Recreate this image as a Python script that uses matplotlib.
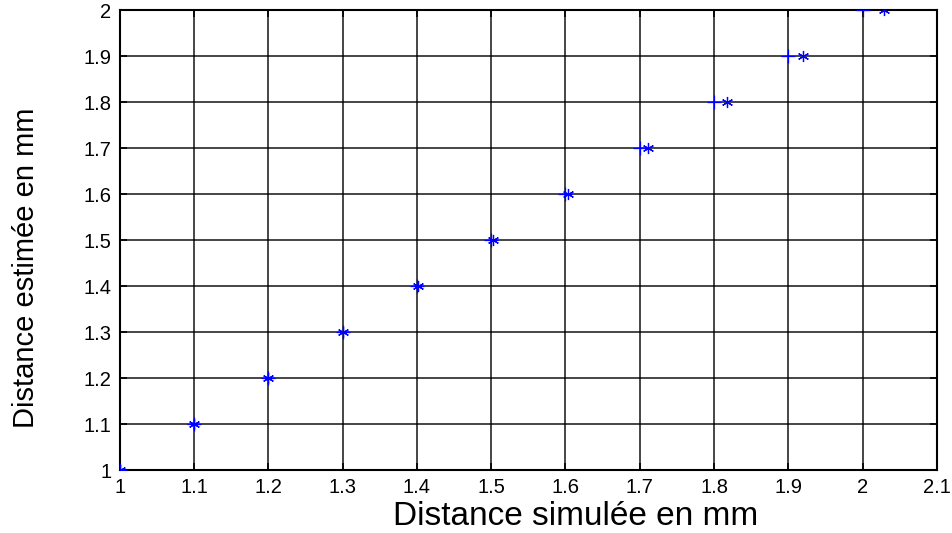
import matplotlib
matplotlib.use("Agg")
from matplotlib import pyplot as plt

# Reference values (simulated) and estimated distances, in mm
x_ref = [1.0, 1.1, 1.2, 1.3, 1.4, 1.5, 1.6, 1.7, 1.8, 1.9, 2.0]
y_ref = [1.0, 1.1, 1.2, 1.3, 1.4, 1.5, 1.6, 1.7, 1.8, 1.9, 2.0]
x_est = [1.0, 1.1, 1.2, 1.3, 1.401, 1.502, 1.604, 1.711, 1.817, 1.92, 2.029]
y_est = [1.0, 1.1, 1.2, 1.3, 1.4, 1.5, 1.6, 1.7, 1.8, 1.9, 2.0]

x_ticks = [1, 1.1, 1.2, 1.3, 1.4, 1.5, 1.6, 1.7, 1.8, 1.9, 2, 2.1]
x_labels = ["1", "1.1", "1.2", "1.3", "1.4", "1.5", "1.6", "1.7", "1.8", "1.9", "2", "2.1"]
y_ticks = [1, 1.1, 1.2, 1.3, 1.4, 1.5, 1.6, 1.7, 1.8, 1.9, 2]
y_labels = ["1", "1.1", "1.2", "1.3", "1.4", "1.5", "1.6", "1.7", "1.8", "1.9", "2"]

plt.rcParams['font.family'] = ['Liberation Sans', 'DejaVu Sans']

fig = plt.figure(figsize=(9.52, 5.33), dpi=100)
ax = fig.add_axes([0.126, 0.118, 0.858, 0.863])

ax.plot(x_ref, y_ref, linestyle='none', marker='+', color='blue',
        markersize=10, markeredgewidth=0.9, zorder=3)
ax.plot(x_est, y_est, linestyle='none', marker=(6, 2, 0), color='blue',
        markersize=8, markeredgewidth=0.9, zorder=3)

ax.set_xlim(1, 2.1)
ax.set_ylim(1, 2)
ax.set_xticks(x_ticks)
ax.set_xticklabels(x_labels)
ax.set_yticks(y_ticks)
ax.set_yticklabels(y_labels)

ax.grid(True, color='black', linewidth=1.2, alpha=0.85)
ax.set_axisbelow(True)
ax.tick_params(direction='in', length=5, width=1.2, labelsize=14.5,
               top=True, right=True, pad=6)
for s in ax.spines.values():
    s.set_linewidth(1.5)

ax.set_xlabel("Distance simulée en mm", fontsize=24)
ax.xaxis.set_label_coords(0.558, -0.068)
ax.set_ylabel("Distance estimée en mm", fontsize=21)
ax.yaxis.set_label_coords(-0.098, 0.44)

fig.savefig("out.png", dpi=100)
